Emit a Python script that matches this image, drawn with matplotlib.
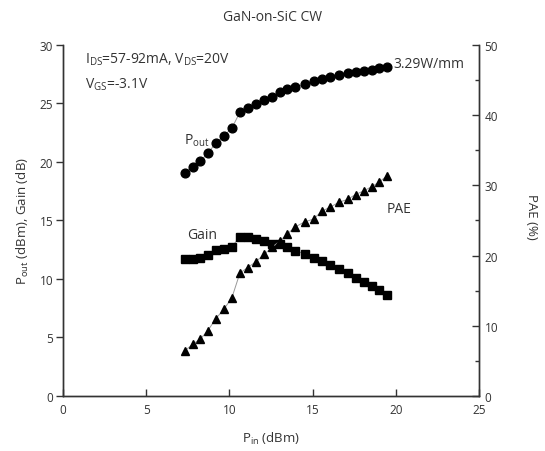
import matplotlib
matplotlib.use('Agg')
import matplotlib.pyplot as plt
from matplotlib.ticker import MultipleLocator

plt.rcParams['font.family'] = ['Open Sans', 'DejaVu Sans']
plt.rcParams['mathtext.fontset'] = 'custom'
plt.rcParams['mathtext.rm'] = 'Open Sans'
plt.rcParams['mathtext.default'] = 'rm'

# input power sweep (dBm)
pin = [7.33, 7.81, 8.25, 8.70, 9.18, 9.68, 10.15, 10.63, 11.10, 11.58, 12.10, 12.57, 13.05,
       13.49, 13.97, 14.52, 15.06, 15.54, 16.05, 16.59, 17.10, 17.58, 18.06, 18.54, 19.02, 19.49]
# output power (dBm)
pout = [19.05, 19.6, 20.05, 20.75, 21.6, 22.25, 22.9, 24.25, 24.65, 24.95, 25.3, 25.55, 26.0,
        26.2, 26.4, 26.65, 26.9, 27.1, 27.25, 27.45, 27.6, 27.7, 27.8, 27.9, 28.05, 28.15]
# gain (dB)
gain = [11.70, 11.75, 11.78, 12.05, 12.45, 12.58, 12.75, 13.62, 13.55, 13.38, 13.22, 13.0, 12.95,
        12.70, 12.42, 12.14, 11.82, 11.56, 11.18, 10.84, 10.52, 10.09, 9.74, 9.36, 9.02, 8.67]
# power added efficiency (%)
pae = [6.45, 7.4, 8.1, 9.3, 11.0, 12.4, 14.0, 17.5, 18.3, 19.1, 20.2, 21.2, 22.1,
       23.1, 24.1, 24.8, 25.2, 26.3, 26.9, 27.6, 28.0, 28.7, 29.2, 29.8, 30.5, 31.4]

txt = '#333333'
fig = plt.figure(figsize=(5.45, 4.52), dpi=100)
ax = fig.add_axes([0.1156, 0.1217, 0.7633, 0.7766])
ax2 = ax.twinx()

ax.plot(pin, pout, color='#999999', lw=0.7, marker='o', ms=6.3, mfc='black', mec='black', zorder=3)
ax.plot(pin, gain, color='#999999', lw=0.7, marker='s', ms=5.3, mfc='black', mec='black', zorder=3)
ax2.plot(pin, pae, color='#999999', lw=0.7, marker='^', ms=6.3, mfc='black', mec='black', zorder=3)

ax.set_xlim(0, 25)
ax.set_ylim(0, 30)
ax2.set_ylim(0, 50)
ax.xaxis.set_major_locator(MultipleLocator(5))
ax.yaxis.set_major_locator(MultipleLocator(5))
ax2.yaxis.set_major_locator(MultipleLocator(10))
ax2.yaxis.set_minor_locator(MultipleLocator(5))

for a in (ax, ax2):
    a.spines['top'].set_visible(False)
    for s in a.spines.values():
        s.set_color(txt)
        s.set_linewidth(1.0)
ax.tick_params(axis='x', direction='in', length=5, width=1, colors=txt, labelsize=8.5, pad=5)
ax.tick_params(axis='y', direction='out', length=5, width=1, colors=txt, labelsize=8.5, pad=2)
ax2.tick_params(axis='y', which='major', direction='in', length=5, width=1, colors=txt, labelsize=8.5, pad=4)
ax2.tick_params(axis='y', which='minor', direction='in', length=3, width=1, colors=txt)

ax.set_xlabel(r'P$_{\rm in}$ (dBm)', fontsize=9.5, color=txt, labelpad=10)
ax.set_ylabel(r'P$_{\rm out}$ (dBm), Gain (dB)', fontsize=9.5, color=txt, labelpad=6)
# right-hand axis title, placed by hand so it stays inside the figure
fig.text(0.975, 0.52, 'PAE (%)', fontsize=9.5, color=txt, rotation=270, ha='center', va='center')
fig.suptitle('GaN-on-SiC CW', fontsize=10, color=txt, y=0.978)

ax.text(1.3, 28.8, r'I$_{\rm DS}$=57-92mA, V$_{\rm DS}$=20V', fontsize=10, color=txt, va='center')
ax.text(1.3, 26.7, r'V$_{\rm GS}$=-3.1V', fontsize=10, color=txt, va='center')
ax.text(7.3, 21.9, r'P$_{\rm out}$', fontsize=10, color=txt, va='center')
ax.text(7.45, 13.8, 'Gain', fontsize=10, color=txt, va='center')
ax.text(19.85, 28.4, '3.29W/mm', fontsize=10, color=txt, va='center')
ax2.text(20.2, 26.7, 'PAE', fontsize=10, color=txt, ha='center', va='center')

fig.savefig('out.png', dpi=100)
plt.close()
